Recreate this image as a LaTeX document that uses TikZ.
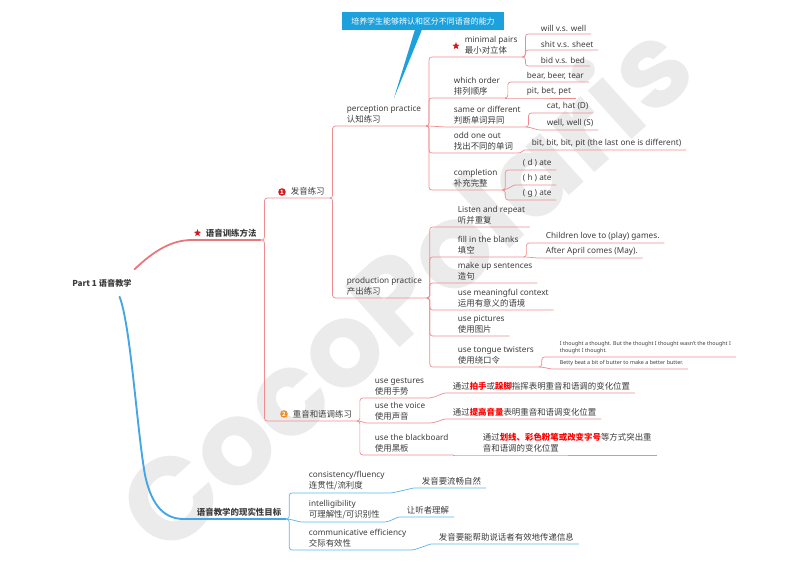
\documentclass[tikz,border=0pt]{standalone}
\usepackage{fontspec}
\setmainfont{Noto Sans}
\newfontfamily\cjk{Noto Sans CJK SC}
\newfontfamily\markfont{Poppins}
\usetikzlibrary{shapes.geometric,calc}

\definecolor{ink}{HTML}{3C3C3C}
\definecolor{linered}{HTML}{EE8C90}
\definecolor{rootred}{HTML}{E8767B}
\definecolor{lineblue}{HTML}{5AB4EA}
\definecolor{rootblue}{HTML}{45A5E5}
\definecolor{notecyan}{HTML}{1DA1DD}
\definecolor{markred}{HTML}{D7191F}
\definecolor{markorange}{HTML}{F28C28}
\definecolor{hired}{HTML}{FF0000}

\newcommand\zhtext[1]{{\cjk\fontsize{7.2}{9.4}\selectfont #1}}
\newcommand\redword[1]{\textcolor{hired}{\bfseries #1}}

\tikzset{
topic/.style={anchor=south west, align=left, inner xsep=4pt, inner ysep=2.2pt, text=ink, font=\fontsize{7}{9.4}\selectfont},
boldtopic/.style={topic, font=\cjk\fontsize{7}{9.4}\selectfont\bfseries},
tinytopic/.style={topic, font=\fontsize{4.6}{6}\selectfont},
forkline/.style={to path={-- ++(3,0) |- (\tikztotarget)}},
swingline/.style={to path={.. controls +(5,0) and +(-5,0) .. (\tikztotarget)}},
redbranch/.style={draw=linered, line width=0.6pt, rounded corners=2.4pt},
bluebranch/.style={draw=lineblue, line width=0.6pt, rounded corners=2.4pt},
starmark/.style={star, star points=5, star point ratio=2.3, fill=markred, inner sep=0pt, minimum size=6.5pt},
nummark/.style={circle, fill=#1, text=white, inner sep=0pt, minimum size=6.5pt, font=\fontsize{5}{5}\selectfont\bfseries},
notebox/.style={fill=notecyan, text=white, inner sep=0pt, minimum width=138pt, minimum height=15pt, font=\cjk\fontsize{6.8}{8}\selectfont},
watermark/.style={rotate=42, text=black!8, inner sep=0pt, font=\markfont\bfseries\fontsize{100}{100}\selectfont}
}

\begin{document}
\begin{tikzpicture}[x=0.03cm,y=-0.03cm]
\useasboundingbox (0,0) rectangle (800,566);
\node[watermark] (wm) at (402,284) {CocoPolaris};

\node[boldtopic, anchor=center] (root) at (102,283) {Part 1 语音教学};
\node[boldtopic] (m1) at (201,240) {\zhtext{\bfseries 语音训练方法}};
\node[starmark] (m1star) at (197.5,233) {};
\node[boldtopic] (m2) at (192,519) {\zhtext{\bfseries 语音教学的现实性目标}};

\node[topic] (a1) at (286,198) {\zhtext{发音练习}};
\node[nummark=markred] (a1num) at (282,192) {\cjk 1};
\node[topic] (a2) at (288,421) {\zhtext{重音和语调练习}};
\node[nummark=markorange] (a2num) at (284,414) {\cjk 2};

\node[topic] (p1) at (342,126) {perception practice\\\zhtext{认知练习}};
\node[topic] (p2) at (342,298) {production practice\\\zhtext{产出练习}};

\node[topic] (c1) at (460,57) {minimal pairs\\\zhtext{最小对立体}};
\node[starmark] (c1star) at (456,46) {};
\node[topic] (c2) at (449,98) {which order\\\zhtext{排列顺序}};
\node[topic] (c3) at (449,127) {same or different\\\zhtext{判断单词异同}};
\node[topic] (c4) at (449,153) {odd one out\\\zhtext{找出不同的单词}};
\node[topic] (c5) at (449,190) {completion\\\zhtext{补充完整}};

\node[topic] (d1) at (536,34) {will v.s. well};
\node[topic] (d2) at (536,50) {shit v.s. sheet};
\node[topic] (d3) at (536,66) {bid v.s. bed};
\node[topic] (e1) at (522,82) {bear, beer, tear};
\node[topic] (e2) at (522,98) {pit, bet, pet};
\node[topic] (f1) at (542,113) {cat, hat (D)};
\node[topic] (f2) at (542,130) {well, well (S)};
\node[topic] (g1) at (527,150) {bit, bit, bit, pit (the last one is different)};
\node[topic] (h1) at (518,170) {( d ) ate};
\node[topic] (h2) at (518,185) {( h ) ate};
\node[topic] (h3) at (518,200) {( g ) ate};

\node[topic] (q1) at (453,227) {Listen and repeat\\\zhtext{听并重复}};
\node[topic] (q2) at (453,257) {fill in the blanks\\\zhtext{填空}};
\node[topic] (q3) at (453,283) {make up sentences\\\zhtext{造句}};
\node[topic] (q4) at (453,310) {use meaningful context\\\zhtext{运用有意义的语境}};
\node[topic] (q5) at (453,336) {use pictures\\\zhtext{使用图片}};
\node[topic] (q6) at (453,367) {use tongue twisters\\\zhtext{使用绕口令}};
\node[topic] (r1) at (541,243) {Children love to (play) games.};
\node[topic] (r2) at (541,258) {After April comes (May).};
\node[tinytopic] (s1) at (555,357) {I thought a thought. But the thought I thought wasn't the thought I\\thought I thought.};
\node[tinytopic] (s2) at (555,369) {Betty beat a bit of butter to make a better butter.};

\node[topic] (t1) at (370,398) {use gestures\\\zhtext{使用手势}};
\node[topic] (t2) at (370,423) {use the voice\\\zhtext{使用声音}};
\node[topic] (t3) at (370,455) {use the blackboard\\\zhtext{使用黑板}};
\node[topic] (u1) at (448,393) {\zhtext{通过\redword{拍手}或\redword{跺脚}指挥表明重音和语调的变化位置}};
\node[topic] (u2) at (448,419) {\zhtext{通过\redword{提高音量}表明重音和语调变化位置}};
\node[topic] (u3) at (478,455) {\zhtext{通过\redword{划线、彩色粉笔或改变字号}等方式突出重}\\\zhtext{音和语调的变化位置}};

\node[topic] (v1) at (304,493) {consistency/fluency\\\zhtext{连贯性/流利度}};
\node[topic] (v2) at (304,522) {intelligibility\\\zhtext{可理解性/可识别性}};
\node[topic] (v3) at (304,550) {communicative efficiency\\\zhtext{交际有效性}};
\node[topic] (w1) at (417,488) {\zhtext{发音要流畅自然}};
\node[topic] (w2) at (402,517) {\zhtext{让听者理解}};
\node[topic] (w3) at (434,544) {\zhtext{发音要能帮助说话者有效地传递信息}};

\node[notebox] (note) at (423,21) {培养学生能够辨认和区分不同语音的能力};
\coordinate (tip) at (394,98);
\fill[notecyan] ($(note.south)+(-8,-0.5)$) -- (tip) -- ($(note.south)+(-1,-0.5)$) -- cycle;

\draw[rootred, line width=1.5pt, line cap=round] ($(root.north east)+(-2,-7)$) .. controls +(20,-19) and +(-20,0) .. ($(m1.south west)+(-9,0)$);
\draw[rootred, line width=0.9pt] ($(m1.south west)+(-9,0)$) -- (m1.south east);
\coordinate (bluebend) at (145,475);
\draw[rootblue, line width=1.6pt, line cap=round] ($(root.south east)+(-17,7)$) .. controls +(11,28) and +(-8,-45) .. (bluebend) .. controls +(7,33) and +(-18,0) .. ($(m2.south west)+(-8,0)$);
\draw[rootblue, line width=0.9pt] ($(m2.south west)+(-8,0)$) -- (m2.south east);

\draw[redbranch] (m1.south east) to[forkline] ($(a1.south west)+(-15,0)$) -- (a1.south east);
\draw[redbranch] (m1.south east) to[forkline] ($(a2.south west)+(-17,0)$) -- (a2.south east);
\draw[redbranch] (a1.south east) to[forkline] (p1.south west) -- (p1.south east);
\draw[redbranch] (a1.south east) to[forkline] (p2.south west) -- (p2.south east);

\draw[redbranch] (p1.south east) to[forkline] ($(c1.south west)+(-11,0)$) -- (c1.south east);
\draw[redbranch] (p1.south east) to[forkline] (c2.south west) -- (c2.south east);
\draw[redbranch] (p1.south east) to[swingline] (c3.south west) -- (c3.south east);
\draw[redbranch] (p1.south east) to[forkline] (c4.south west) -- (c4.south east);
\draw[redbranch] (p1.south east) to[forkline] (c5.south west) -- (c5.south east);

\draw[redbranch] (c1.south east) to[forkline] (d1.south west) -- (d1.south east);
\draw[redbranch] (c1.south east) to[forkline] (d2.south west) -- (d2.south east);
\draw[redbranch] (c1.south east) to[forkline] (d3.south west) -- (d3.south east);
\draw[redbranch] (c2.south east) to[forkline] (e1.south west) -- (e1.south east);
\draw[redbranch] (c2.south east) to[swingline] (e2.south west) -- (e2.south east);
\draw[redbranch] (c3.south east) to[forkline] (f1.south west) -- (f1.south east);
\draw[redbranch] (c3.south east) to[swingline] (f2.south west) -- (f2.south east);
\draw[redbranch] (c4.south east) to[swingline] (g1.south west) -- (g1.south east);
\draw[redbranch] (c5.south east) to[forkline] (h1.south west) -- (h1.south east);
\draw[redbranch] (c5.south east) to[swingline] (h2.south west) -- (h2.south east);
\draw[redbranch] (c5.south east) to[forkline] (h3.south west) -- (h3.south east);

\draw[redbranch] (p2.south east) to[forkline] (q1.south west) -- (q1.south east);
\draw[redbranch] (p2.south east) to[forkline] (q2.south west) -- (q2.south east);
\draw[redbranch] (p2.south east) to[forkline] (q3.south west) -- (q3.south east);
\draw[redbranch] (p2.south east) to[forkline] (q4.south west) -- (q4.south east);
\draw[redbranch] (p2.south east) to[forkline] (q5.south west) -- (q5.south east);
\draw[redbranch] (p2.south east) to[forkline] (q6.south west) -- (q6.south east);
\draw[redbranch] (q2.south east) to[forkline] (r1.south west) -- (r1.south east);
\draw[redbranch] (q2.south east) to[swingline] (r2.south west) -- (r2.south east);
\draw[redbranch] (q6.south east) to[forkline] (s1.south west) -- (s1.south east);
\draw[redbranch] (q6.south east) to[swingline] (s2.south west) -- (s2.south east);

\draw[redbranch] (a2.south east) to[forkline] (t1.south west) -- (t1.south east);
\draw[redbranch] (a2.south east) to[swingline] (t2.south west) -- (t2.south east);
\draw[redbranch] (a2.south east) to[forkline] (t3.south west) -- (t3.south east);
\draw[redbranch] (t1.south east) to[swingline] (u1.south west) -- (u1.south east);
\draw[redbranch] (t2.south east) to[swingline] (u2.south west) -- (u2.south east);
\draw[redbranch] (t3.south east) to[swingline] (u3.south west) -- (u3.south east);

\draw[bluebranch] (m2.south east) to[forkline] (v1.south west) -- (v1.south east);
\draw[bluebranch] (m2.south east) to[swingline] (v2.south west) -- (v2.south east);
\draw[bluebranch] (m2.south east) to[forkline] (v3.south west) -- (v3.south east);
\draw[bluebranch] (v1.south east) to[swingline] (w1.south west) -- (w1.south east);
\draw[bluebranch] (v2.south east) to[swingline] (w2.south west) -- (w2.south east);
\draw[bluebranch] (v3.south east) to[swingline] (w3.south west) -- (w3.south east);
\end{tikzpicture}
\end{document}
